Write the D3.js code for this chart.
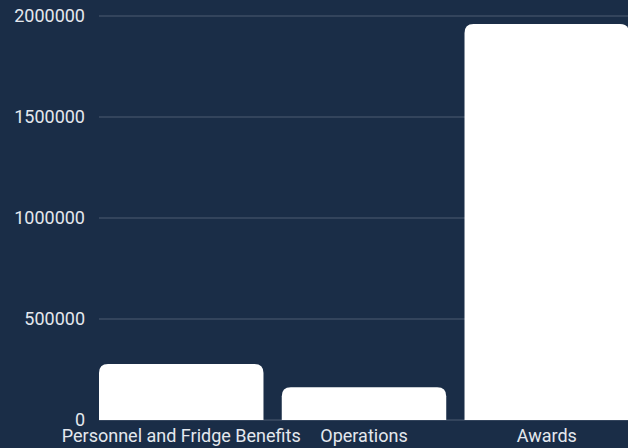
<!DOCTYPE html>
<html>
<head>
<meta charset="utf-8">
<script src="https://cdn.jsdelivr.net/npm/d3@7"></script>
<style>
  html, body { margin: 0; padding: 0; background: #1a2d47; overflow: hidden; }
  svg { display: block; }
  text { font-family: Roboto, "Noto Sans", sans-serif; }
</style>
</head>
<body>
<svg id="chart" width="628" height="448"></svg>
<script>
// Budget categories and their amounts
const categories = ["Personnel and Fridge Benefits", "Operations", "Awards"];
const amounts = [277000, 162000, 1960000];
const yTicks = [0, 500000, 1000000, 1500000, 2000000];

const width = 628, height = 448;
const margin = { top: 16, right: -1, bottom: 28, left: 99 };

const svg = d3.select("#chart");

const x = d3.scaleBand()
  .domain(categories)
  .range([margin.left, width - margin.right])
  .paddingInner(0.1)
  .paddingOuter(0);

const y = d3.scaleLinear()
  .domain([0, 2000000])
  .range([height - margin.bottom, margin.top]);

// Horizontal gridlines
svg.append("g")
  .selectAll("line")
  .data(yTicks)
  .join("line")
  .attr("x1", margin.left)
  .attr("x2", width)
  .attr("y1", d => y(d))
  .attr("y2", d => y(d))
  .attr("stroke", "#4d5d73")
  .attr("stroke-width", 1);

// Y axis labels
const yAxis = d3.axisLeft(y)
  .tickValues(yTicks)
  .tickFormat(d3.format("d"))
  .tickSize(0)
  .tickPadding(14);

svg.append("g")
  .attr("transform", `translate(${margin.left},0)`)
  .call(yAxis)
  .call(g => g.select(".domain").remove())
  .call(g => g.selectAll("text")
    .attr("fill", "#e4e8ee")
    .style("font-size", "18px")
    .style("font-family", "Roboto, sans-serif"));

// Bars with rounded top corners
const r = 9;
function barPath(x0, y0, w, h) {
  const rr = Math.min(r, h, w / 2);
  return `M${x0},${y0 + h}` +
    `V${y0 + rr}` +
    `Q${x0},${y0} ${x0 + rr},${y0}` +
    `H${x0 + w - rr}` +
    `Q${x0 + w},${y0} ${x0 + w},${y0 + rr}` +
    `V${y0 + h}Z`;
}

svg.append("g")
  .selectAll("path")
  .data(categories.map((c, i) => ({ c, v: amounts[i] })))
  .join("path")
  .attr("d", d => barPath(x(d.c), y(d.v), x.bandwidth(), y(0) - y(d.v)))
  .attr("fill", "#ffffff");

// Category labels
const xAxis = d3.axisBottom(x).tickSize(0).tickPadding(9);
svg.append("g")
  .attr("transform", `translate(0,${y(0)})`)
  .call(xAxis)
  .call(g => g.select(".domain").remove())
  .call(g => g.selectAll("text")
    .attr("fill", "#e4e8ee")
    .style("font-size", "18px")
    .style("font-family", "Roboto, sans-serif"));
</script>
</body>
</html>
